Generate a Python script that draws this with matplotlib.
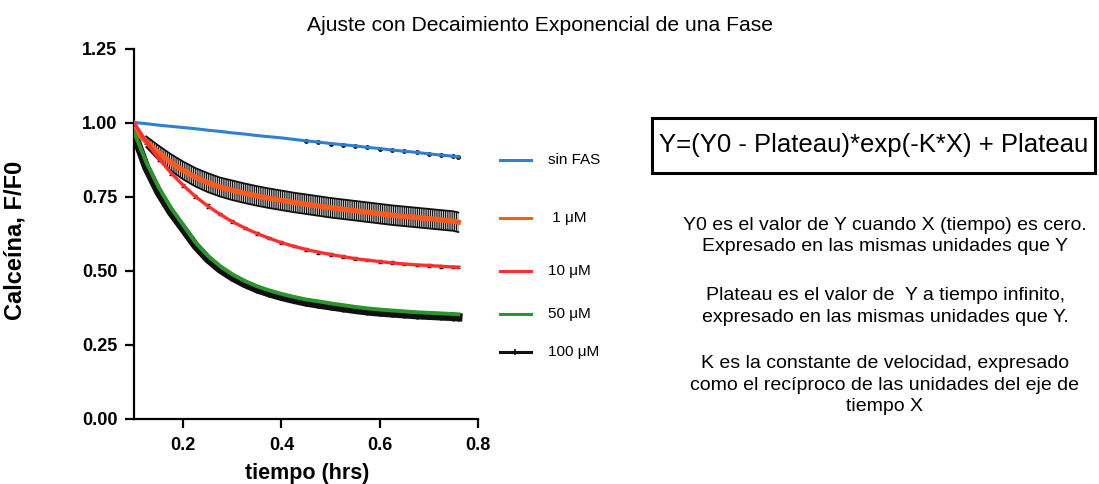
import matplotlib
matplotlib.use("Agg")
import matplotlib.pyplot as plt
from matplotlib.lines import Line2D
from matplotlib.patches import Rectangle
import numpy as np

# ---------------- data ----------------
tiempo = [0.100, 0.125, 0.150, 0.175, 0.200, 0.225, 0.250, 0.275, 0.300, 0.325,
          0.350, 0.375, 0.400, 0.425, 0.450, 0.475, 0.500, 0.525, 0.550, 0.575,
          0.600, 0.625, 0.650, 0.675, 0.700, 0.725, 0.750, 0.760]

sin_fas = [1.000, 0.996, 0.991, 0.987, 0.983, 0.979, 0.974, 0.970, 0.965, 0.961,
           0.956, 0.952, 0.948, 0.943, 0.938, 0.934, 0.929, 0.925, 0.921, 0.916,
           0.912, 0.907, 0.903, 0.899, 0.894, 0.890, 0.886, 0.884]

um1 = [0.975, 0.935, 0.898, 0.865, 0.838, 0.815, 0.797, 0.782, 0.771, 0.761,
       0.752, 0.744, 0.737, 0.730, 0.724, 0.718, 0.712, 0.707, 0.702, 0.697,
       0.692, 0.687, 0.683, 0.679, 0.675, 0.671, 0.667, 0.663]
um1_sd = [0.000, 0.018, 0.024, 0.028, 0.030, 0.031, 0.032, 0.032, 0.033, 0.033,
          0.033, 0.033, 0.033, 0.033, 0.033, 0.033, 0.033, 0.033, 0.033, 0.033,
          0.033, 0.033, 0.033, 0.033, 0.033, 0.033, 0.033, 0.033]

um10 = [1.000, 0.935, 0.879, 0.830, 0.788, 0.750, 0.718, 0.690, 0.665, 0.644,
        0.625, 0.609, 0.594, 0.582, 0.571, 0.562, 0.554, 0.547, 0.540, 0.535,
        0.530, 0.526, 0.522, 0.519, 0.517, 0.514, 0.512, 0.511]
um10_sd = [0.000, 0.006, 0.008, 0.006, 0.005, 0.006, 0.007, 0.004, 0.005, 0.004,
           0.006, 0.004, 0.005, 0.004, 0.004, 0.005, 0.004, 0.004, 0.005, 0.004,
           0.004, 0.005, 0.004, 0.004, 0.004, 0.004, 0.004, 0.004]

um50 = [0.968, 0.866, 0.782, 0.712, 0.654, 0.595, 0.550, 0.515, 0.487, 0.465,
        0.447, 0.433, 0.421, 0.411, 0.402, 0.396, 0.389, 0.383, 0.377, 0.372,
        0.368, 0.365, 0.362, 0.359, 0.357, 0.355, 0.353, 0.352]

um100 = [0.962, 0.848, 0.764, 0.697, 0.641, 0.584, 0.539, 0.504, 0.477, 0.455,
         0.437, 0.423, 0.411, 0.401, 0.392, 0.385, 0.379, 0.373, 0.367, 0.362,
         0.358, 0.355, 0.352, 0.349, 0.347, 0.345, 0.343, 0.342]
um100_sd = [0.012, 0.014, 0.014, 0.014, 0.013, 0.012, 0.012, 0.012, 0.012, 0.012,
            0.012, 0.012, 0.012, 0.012, 0.012, 0.012, 0.012, 0.012, 0.012, 0.012,
            0.012, 0.012, 0.012, 0.012, 0.012, 0.012, 0.012, 0.012]

series_labels = ["sin FAS", " 1 μM", "10 μM", "50 μM", "100 μM"]
y_ticks = [0.00, 0.25, 0.50, 0.75, 1.00, 1.25]
x_ticks = [0.2, 0.4, 0.6, 0.8]

title = "Ajuste con Decaimiento Exponencial de una Fase"
ecuacion = "Y=(Y0 - Plateau)*exp(-K*X) + Plateau"
parrafos = [
    "Y0 es el valor de Y cuando X (tiempo) es cero.",
    "Expresado en las mismas unidades que Y",
    "Plateau es el valor de  Y a tiempo infinito,",
    "expresado en las mismas unidades que Y.",
    "K es la constante de velocidad, expresado",
    "como el recíproco de las unidades del eje de",
    "tiempo X",
]

# ---------------- styling ----------------
FONT = ["Liberation Sans", "DejaVu Sans"]
plt.rcParams["font.family"] = FONT
plt.rcParams["hatch.linewidth"] = 0.8

c_blue = "#2f80d2"
c_orange = "#ff5a1e"
c_red = "#ff2e2e"
c_green = "#2c962c"
c_black = "#111111"

W, H = 1099, 484
fig = plt.figure(figsize=(W / 100, H / 100), dpi=100)
ax = fig.add_axes([134 / W, 1 - 418.5 / H, (478 - 134) / W, (418.5 - 48.5) / H])

t = np.array(tiempo)

# sin FAS
ax.plot(t[14:], sin_fas[14:], "o", color=c_black, ms=2.5, zorder=3)
ax.plot(t, sin_fas, color=c_blue, lw=2.2, zorder=4)

# 1 uM: dense error bars as hatched band
m1 = np.array(um1)
s1 = np.array(um1_sd)
ax.fill_between(t[1:], (m1 - s1)[1:], (m1 + s1)[1:], facecolor="none",
                edgecolor=c_black, hatch="|||||||||", lw=0, zorder=2)
ax.plot(t[1:], (m1 + s1)[1:], color=c_black, lw=1.3, zorder=2)
ax.plot(t[1:], (m1 - s1)[1:], color=c_black, lw=1.3, zorder=2)
ax.plot(t, m1, color=c_orange, lw=3.8, zorder=4)

# 10 uM
ax.errorbar(t, um10, yerr=um10_sd, fmt=".", color=c_black, ms=2, elinewidth=0.9,
            capsize=1.5, zorder=3)
ax.plot(t, um10, color=c_red, lw=2.4, zorder=4)

# 100 uM data band (black) and 50 uM (green)
ax.errorbar(t, um100, yerr=um100_sd, fmt="-", color=c_black, lw=6,
            elinewidth=2.0, capsize=0, zorder=3)
ax.plot(t, um50, color=c_green, lw=2.8, zorder=4)

ax.set_xlim(0.1, 0.8)
ax.set_ylim(0.0, 1.25)
ax.set_xticks(x_ticks)
ax.set_yticks(y_ticks)
ax.set_xticklabels([f"{v:.1f}" for v in x_ticks])
ax.set_yticklabels([f"{v:.2f}" for v in y_ticks])
for sp in ["top", "right"]:
    ax.spines[sp].set_visible(False)
for sp in ["left", "bottom"]:
    ax.spines[sp].set_linewidth(1.6)
ax.tick_params(axis="both", direction="out", length=6.5, width=1.6,
               labelsize=13)
ax.tick_params(axis="x", pad=6.5)
ax.tick_params(axis="y", pad=5.5)
for lab in ax.get_xticklabels() + ax.get_yticklabels():
    lab.set_fontweight("bold")

# axis labels
fig.text(27 / W, 1 - 240 / H, "Calceína, F/F0", rotation=90, ha="right",
         va="center", fontsize=17, fontweight="bold")
fig.text(307 / W, 1 - 473 / H, "tiempo (hrs)", ha="center", va="center",
         fontsize=15.5, fontweight="bold")

# title
fig.text(540 / W, 1 - 31 / H, title, ha="center", va="baseline", fontsize=15.2)

# manual legend (uneven spacing as in the reference)
leg_y = [160, 218, 271, 314, 352]
leg_colors = [c_blue, c_orange, c_red, c_green, c_black]
for yy, col, lab in zip(leg_y, leg_colors, series_labels):
    yf = 1 - yy / H
    fig.add_artist(Line2D([500 / W, 531 / W], [yf, yf], transform=fig.transFigure,
                          color=col, lw=2.2))
    if lab.strip().startswith("100"):
        fig.add_artist(Line2D([515 / W], [yf], transform=fig.transFigure,
                              color=col, marker="+", ms=5, mew=1.2, lw=0))
    fig.text(548 / W, yf, lab, ha="left", va="center", fontsize=11)

# equation box
fig.add_artist(Rectangle((652 / W, 1 - 173 / H), (1095 - 652) / W, (173 - 118) / H,
                         transform=fig.transFigure, fill=False, lw=2.2,
                         edgecolor="black"))
fig.text(874 / W, 1 - 152 / H, ecuacion, ha="center", va="baseline", fontsize=18.5)

# explanation paragraphs
base_y = [230, 251.5, 300, 321.5, 368, 389.5, 411]
for yy, txt in zip(base_y, parrafos):
    fig.text(885 / W, 1 - yy / H, txt, ha="center", va="baseline", fontsize=14)

fig.savefig("out.png", dpi=100)
